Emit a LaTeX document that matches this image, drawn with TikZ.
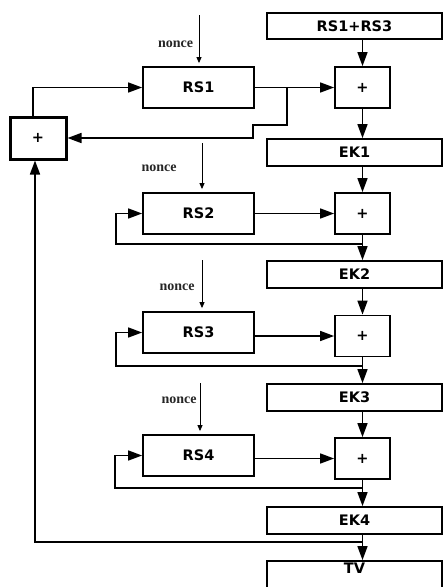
\documentclass[tikz,border=0pt]{standalone}
\usepackage{fontspec}
\setsansfont{DejaVu Sans}
\newfontfamily\noncefont{Liberation Serif}
\usetikzlibrary{arrows.meta}

\begin{document}
\begin{tikzpicture}[x=1pt,y=-1pt,>={Triangle[length=14pt,width=10pt]},line width=1.6pt,
box/.style={draw,line width=1.8pt,minimum width=175pt,minimum height=27pt,inner sep=0pt,font=\sffamily\bfseries\fontsize{14.5}{16}\selectfont},
rsbox/.style={box,minimum width=111pt,minimum height=41pt},
xorbox/.style={box,minimum width=55pt,minimum height=41pt},
nonce/.style={font=\noncefont\bfseries\fontsize{14}{16}\selectfont,text=black!85},
feed/.style={-{Triangle[length=6pt,width=5pt]},line width=0.9pt,shorten >=3pt}]
\useasboundingbox (0,0) rectangle (444,587);
\node[box,minimum height=26pt] (sum) at (354.5,26) {RS1+RS3};
\node[rsbox] (rs1) at (198.5,87.5) {RS1};
\node[xorbox] (p1) at (362.5,87.5) {+};
\node[box] (ek1) at (354.5,152.5) {EK1};
\node[rsbox] (rs2) at (198.5,213.5) {RS2};
\node[xorbox] (p2) at (362.5,213.5) {+};
\node[box] (ek2) at (354.5,274.5) {EK2};
\node[rsbox] (rs3) at (198.5,332.5) {RS3};
\node[xorbox] (p3) at (362.5,336) {+};
\node[box] (ek3) at (354.5,397.5) {EK3};
\node[rsbox] (rs4) at (198.5,455.5) {RS4};
\node[xorbox] (p4) at (362.5,458.5) {+};
\node[box] (ek4) at (354.5,520.5) {EK4};
\node[box,minimum height=30pt,text height=10pt,text depth=16pt] (tv) at (354.5,576) {TV};
\node[xorbox,line width=3pt,minimum width=56pt,minimum height=42pt] (mix) at (38,138) {+};
\node[nonce] (n1) at (175.5,44) {nonce};
\node[nonce] (n2) at (159,168) {nonce};
\node[nonce] (n3) at (177,287) {nonce};
\node[nonce] (n4) at (179,400) {nonce};
\coordinate (t1) at (199,15);
\coordinate (t2) at (202,143);
\coordinate (t3) at (202,260);
\coordinate (t4) at (200,383);
\coordinate (br) at (287,87.5);
\coordinate (f2) at (362.5,244);
\coordinate (f3) at (362.5,366);
\coordinate (f4) at (362.5,488);
\coordinate (g) at (362.5,542);
\draw[feed](t1)--(t1 |- rs1.north);
\draw[feed](t2)--(t2 |- rs2.north);
\draw[feed](t3)--(t3 |- rs3.north);
\draw[feed](t4)--(t4 |- rs4.north);
\draw[->](sum.south -| p1)--(p1.north);
\draw[->](rs1.east)--(p1.west);
\draw[->](p1.south)--(p1.south |- ek1.north);
\draw[->](ek1.south -| p2)--(p2.north);
\draw[->](rs2.east)--(p2.west);
\draw[->](p2.south)--(p2.south |- ek2.north);
\draw[->](ek2.south -| p3)--(p3.north);
\draw[->](rs3.east |- p3)--(p3.west);
\draw[->](p3.south)--(p3.south |- ek3.north);
\draw[->](ek3.south -| p4)--(p4.north);
\draw[->](rs4.east |- p4)--(p4.west);
\draw[->](p4.south)--(p4.south |- ek4.north);
\draw[->](ek4.south -| p4)--(tv.north -| p4);
\draw[->]([xshift=-5pt]mix.north)|-(rs1.west);
\draw[->](br)|-++(-34,37.5)|-(mix.east);
\draw[->](f2)-|([xshift=-26pt]rs2.west)--(rs2.west);
\draw[->](f3)-|([xshift=-26pt]rs3.west)--(rs3.west);
\draw[->](f4)-|([xshift=-27pt]rs4.west)--(rs4.west);
\draw[->](g)-|([xshift=-3pt]mix.south);
\end{tikzpicture}
\end{document}
